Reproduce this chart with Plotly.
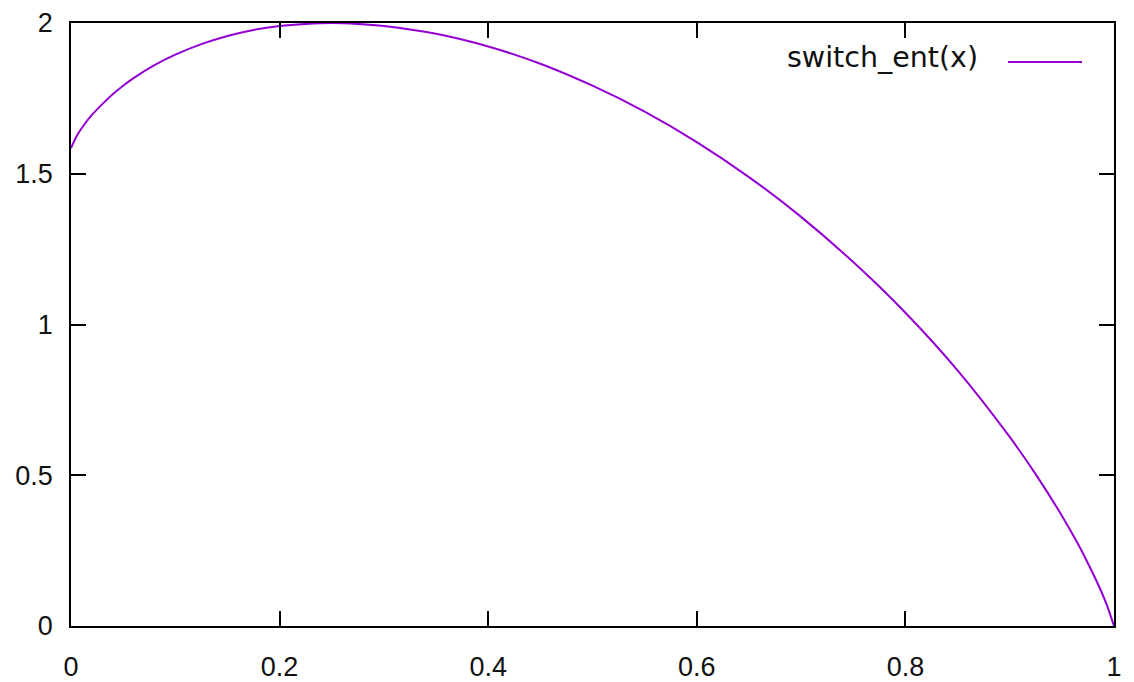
import plotly.graph_objects as go

# values
x_vals = [0.0, 0.005, 0.01, 0.02, 0.03, 0.04, 0.05, 0.06, 0.08, 0.10, 0.125,
          0.15, 0.175, 0.2, 0.225, 0.25, 0.275, 0.3, 0.35, 0.4, 0.45, 0.5,
          0.55, 0.6, 0.65, 0.7, 0.75, 0.8, 0.85, 0.9, 0.925, 0.95, 0.965,
          0.975, 0.985, 0.993, 1.0]
y_vals = [1.585, 1.622, 1.650, 1.695, 1.731, 1.764, 1.792, 1.817, 1.860, 1.895,
          1.930, 1.957, 1.977, 1.990, 1.997, 2.000, 1.997, 1.990, 1.964, 1.922,
          1.865, 1.792, 1.706, 1.605, 1.489, 1.357, 1.207, 1.039, 0.848, 0.627,
          0.503, 0.366, 0.275, 0.208, 0.136, 0.071, 0.000]
series_name = "switch_ent(x)"
x_ticks = [0, 0.2, 0.4, 0.6, 0.8, 1]
x_tick_text = ["0", "0.2", "0.4", "0.6", "0.8", "1"]
y_ticks = [0, 0.5, 1, 1.5, 2]
y_tick_text = ["0", "0.5", "1", "1.5", "2"]

LINE_COLOR = "#9400D3"
TICK_FONT = dict(family="Liberation Sans, Arial, sans-serif", size=27, color="#111111")
KEY_FONT = dict(family="DejaVu Sans", size=28.5, color="#111111")

# the page body has an 8px margin; the figure is sized to fit the window
W, H = 1126, 674
L, R, T, B = 63, 20, 15, 56
pw, ph = W - L - R, H - T - B

fig = go.Figure()
fig.add_trace(go.Scatter(
    x=x_vals, y=y_vals, mode="lines", name=series_name,
    line=dict(color=LINE_COLOR, width=2, shape="spline", smoothing=0.8),
    showlegend=False,
))

axis_common = dict(
    showgrid=False, zeroline=False, showline=True, linecolor="black",
    linewidth=1.5, mirror="allticks", ticks="inside", ticklen=15,
    tickwidth=1.5, tickcolor="black", tickfont=TICK_FONT, automargin=False,
)
fig.update_xaxes(range=[0, 1], tickvals=x_ticks, ticktext=x_tick_text,
                 ticklabelstandoff=16, **axis_common)
fig.update_yaxes(range=[0, 2], tickvals=y_ticks, ticktext=y_tick_text,
                 ticklabelstandoff=11, **axis_common)

# gnuplot-style key: text on the left, line sample on the right
key_y = 1 - (58 - 8 - T) / ph
fig.add_annotation(
    xref="paper", yref="paper", x=(980 - 8 - L) / pw, y=key_y,
    text=series_name, showarrow=False, xanchor="right", yanchor="middle",
    font=KEY_FONT,
)
line_y = 1 - (62 - 8 - T) / ph
fig.add_shape(
    type="line", xref="paper", yref="paper",
    x0=(1008 - 8 - L) / pw, x1=(1082 - 8 - L) / pw,
    y0=line_y, y1=line_y,
    line=dict(color=LINE_COLOR, width=2),
)

fig.update_layout(
    width=W, height=H,
    margin=dict(l=L, r=R, t=T, b=B, autoexpand=False),
    paper_bgcolor="white", plot_bgcolor="white",
    font=TICK_FONT,
)

fig.write_html("out.html")
